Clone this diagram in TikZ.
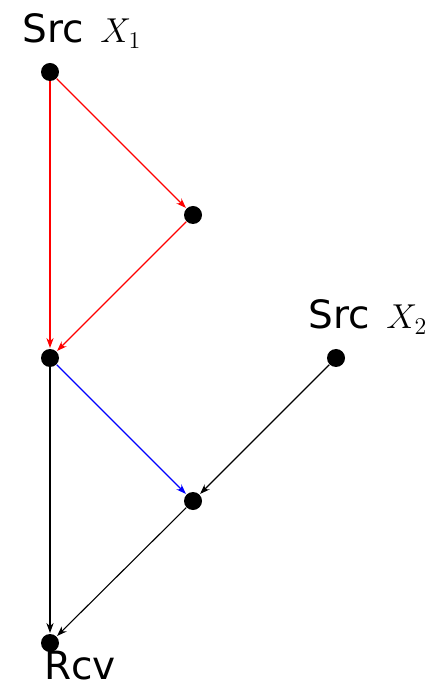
\documentclass[tikz,border=0pt]{standalone}
\usepackage{fontspec}
\setsansfont{DejaVu Sans}
\usepackage{tikz}
\usetikzlibrary{arrows.meta,positioning}

\newcommand{\srcvar}[1]{\hspace{2pt}{\fontsize{17.28}{20}\selectfont$#1$}}

\begin{document}
\begin{tikzpicture}[x=0.5pt, y=-0.5pt,
  every node/.style={font=\sffamily\fontsize{19.5}{24}\selectfont},
  vdot/.style={circle, fill=black, inner sep=0pt, minimum size=9pt},
  flow/.style={-{Stealth[length=5pt, width=3.6pt]}, line width=0.55pt, shorten >=0.3pt},
  tag/.style={anchor=base, inner sep=0pt}]

% Page frame
\useasboundingbox (0,0) rectangle (445,688);

% Vertices
\node[vdot] (src1) at (50,72) {};
\node[vdot] (mid)  at (193,215) {};
\node[vdot] (join) at (50,358) {};
\node[vdot] (src2) at (336,358) {};
\node[vdot] (relay) at (193,501) {};
\node[vdot] (rcv)  at (50,643) {};

% Labels
\node[tag] (src1lbl) at (82,43) {Src \srcvar{X_1}};
\node[tag] (src2lbl) at (368,329) {Src \srcvar{X_2}};
\node[tag] (rcvlbl)  at (80,679) {Rcv};

% Red edges
\draw[flow, red] (src1) -- (mid);
\draw[flow, red] (src1) -- (join);
\draw[flow, red] (mid) -- (join);

% Blue edge
\draw[flow, blue] (join) -- (relay);

% Black edges
\draw[flow] (src2) -- (relay);
\draw[flow] (relay) -- (rcv);
\draw[flow] (join) -- (rcv);

\end{tikzpicture}
\end{document}
